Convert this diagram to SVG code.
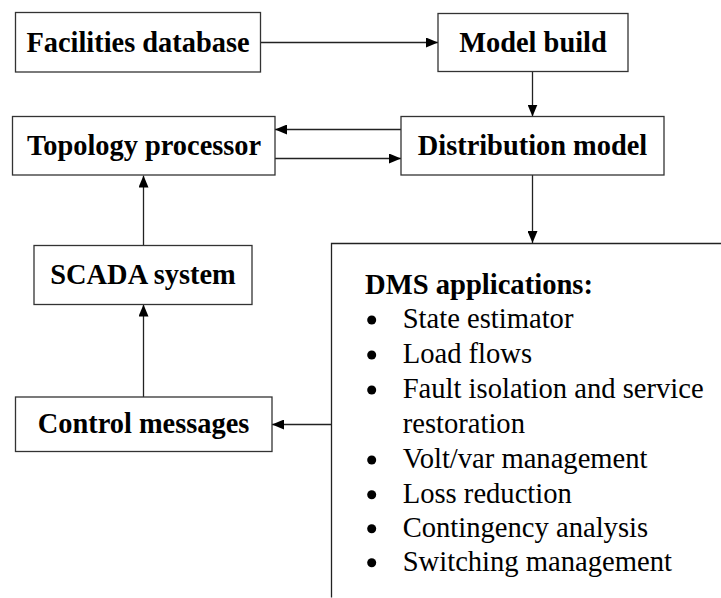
<svg xmlns="http://www.w3.org/2000/svg" width="721" height="598" viewBox="0 0 721 598">
<style>
.box{fill:#fff;stroke:#333;stroke-width:1.3}
.lbl{font-family:"Liberation Serif","Times New Roman",serif;font-weight:bold;font-size:28.4px;fill:#000;text-anchor:middle}
.item{font-family:"Liberation Serif","Times New Roman",serif;font-size:28.6px;fill:#000}
.head{font-family:"Liberation Serif","Times New Roman",serif;font-weight:bold;font-size:28.6px;fill:#000}
.ln{fill:none;stroke:#222;stroke-width:1.3}
</style>
<defs>
<marker id="ah" viewBox="0 0 12 10" refX="12" refY="5" markerWidth="12" markerHeight="10" markerUnits="userSpaceOnUse" orient="auto">
<path d="M0,0 L12,5 L0,10 Z" fill="#000"/>
</marker>
</defs>
<rect width="721" height="598" fill="#fff"/>
<g id="connectors">
<line class="ln" x1="260.5" y1="42.5" x2="438" y2="42.5" marker-end="url(#ah)"/>
<line class="ln" x1="532.5" y1="71.5" x2="532.5" y2="116.5" marker-end="url(#ah)"/>
<line class="ln" x1="401" y1="129.5" x2="275" y2="129.5" marker-end="url(#ah)"/>
<line class="ln" x1="275" y1="158.5" x2="401" y2="158.5" marker-end="url(#ah)"/>
<line class="ln" x1="532.5" y1="175" x2="532.5" y2="243" marker-end="url(#ah)"/>
<line class="ln" x1="143.5" y1="245.5" x2="143.5" y2="175.5" marker-end="url(#ah)"/>
<line class="ln" x1="143.5" y1="397" x2="143.5" y2="304.5" marker-end="url(#ah)"/>
<line class="ln" x1="331.5" y1="424.5" x2="272" y2="424.5" marker-end="url(#ah)"/>
</g>
<g id="facilities">
<rect class="box" x="15.5" y="12.5" width="245" height="59.5"/>
<text class="lbl" x="138" y="52">Facilities database</text>
</g>
<g id="modelbuild">
<rect class="box" x="438" y="13.5" width="190" height="58"/>
<text class="lbl" x="533" y="52">Model build</text>
</g>
<g id="topology">
<rect class="box" x="12.5" y="116.5" width="262.5" height="58.5"/>
<text class="lbl" x="144" y="155">Topology processor</text>
</g>
<g id="distribution">
<rect class="box" x="401" y="116.5" width="263" height="58.5"/>
<text class="lbl" x="532.5" y="155">Distribution model</text>
</g>
<g id="scada">
<rect class="box" x="34" y="245.5" width="218" height="59"/>
<text class="lbl" x="143" y="284">SCADA system</text>
</g>
<g id="control">
<rect class="box" x="15.5" y="397" width="256.5" height="54.5"/>
<text class="lbl" x="143.5" y="432.5">Control messages</text>
</g>
<g id="dms">
<path class="ln" d="M721,243.5 H331.5 V597.5"/>
<text class="head" x="365" y="294">DMS applications:</text>
<g fill="#000">
<circle cx="371.7" cy="320" r="4.5"/>
<circle cx="371.7" cy="355" r="4.5"/>
<circle cx="371.7" cy="390" r="4.5"/>
<circle cx="371.7" cy="460" r="4.5"/>
<circle cx="371.7" cy="494.7" r="4.5"/>
<circle cx="371.7" cy="528.7" r="4.5"/>
<circle cx="371.7" cy="562.7" r="4.5"/>
</g>
<text class="item" x="402.7" y="328">State estimator</text>
<text class="item" x="402.7" y="363">Load flows</text>
<text class="item" x="402.7" y="398">Fault isolation and service</text>
<text class="item" x="402.7" y="433">restoration</text>
<text class="item" x="402.7" y="468">Volt/var management</text>
<text class="item" x="402.7" y="502.7">Loss reduction</text>
<text class="item" x="402.7" y="536.7">Contingency analysis</text>
<text class="item" x="402.7" y="570.7">Switching management</text>
</g>
</svg>
